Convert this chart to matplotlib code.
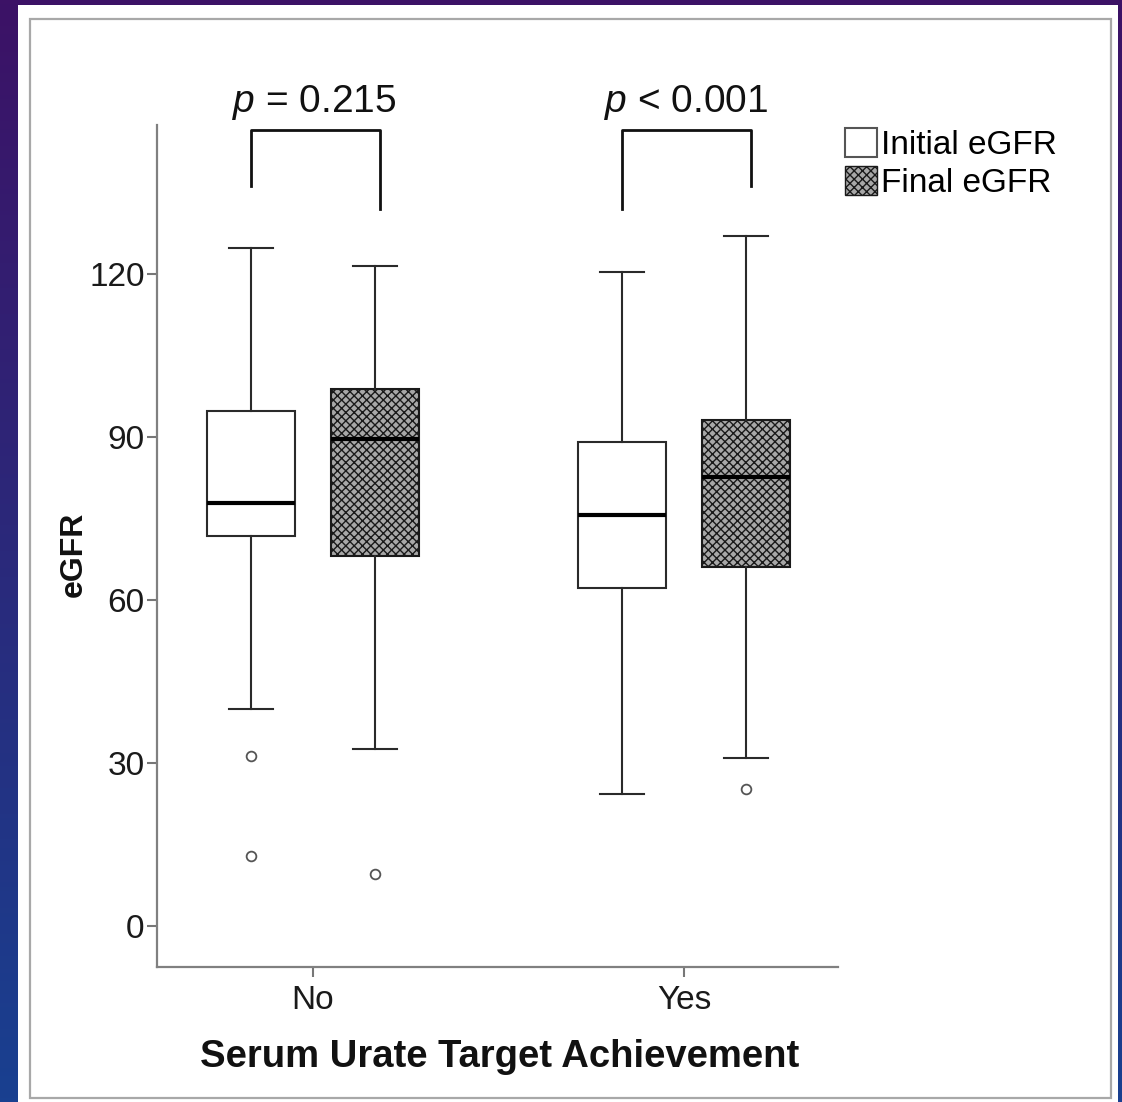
import numpy as np
import matplotlib
matplotlib.use("Agg")
import matplotlib.pyplot as plt
from matplotlib.patches import Patch, Rectangle

plt.rcParams['font.family'] = ['Liberation Sans', 'DejaVu Sans']
plt.rcParams['mathtext.fontset'] = 'custom'
plt.rcParams['mathtext.rm'] = 'Liberation Sans'
plt.rcParams['mathtext.it'] = 'Liberation Sans:italic'
plt.rcParams['hatch.linewidth'] = 1.0

# data
groups = ['No', 'Yes']
series = ['Initial eGFR', 'Final eGFR']

initial_whishi = [124.8, 120.4]
initial_q3 = [94.8, 89.1]
initial_med = [77.9, 75.6]
initial_q1 = [71.8, 62.2]
initial_whislo = [39.9, 24.3]
initial_fliers = [[31.3, 12.9], []]

final_whishi = [121.5, 127.0]
final_q3 = [98.8, 93.1]
final_med = [89.6, 82.6]
final_q1 = [68.1, 66.1]
final_whislo = [32.6, 30.9]
final_fliers = [[9.6], [25.2]]

p_labels = [r'$p$ = 0.215', r'$p$ < 0.001']
bracket_top = 146.5
bracket_legs = [[136.2, 132.0], [132.0, 136.2]]

yticks = [0, 30, 60, 90, 120]

W, H = 1122, 1102
fig = plt.figure(figsize=(W / 100, H / 100), dpi=100)

# slide background gradient
bg = fig.add_axes([0, 0, 1, 1], zorder=-10)
top_c = np.array([0x3c, 0x12, 0x66]) / 255
bot_c = np.array([0x19, 0x40, 0x90]) / 255
t = np.linspace(0, 1, 256)[:, None, None]
grad = top_c * (1 - t) + bot_c * t
bg.imshow(np.repeat(grad, 2, axis=1), aspect='auto', extent=[0, 1, 0, 1])
bg.axis('off')

# white panel with grey frame
fig.add_artist(Rectangle((18 / W, 0), (1118 - 18) / W, 1 - 5 / H,
                         transform=fig.transFigure, facecolor='white',
                         edgecolor='none', zorder=-5))
fig.add_artist(Rectangle((30 / W, 1 - 1098 / H), (1111 - 30) / W, (1098 - 19) / H,
                         transform=fig.transFigure, facecolor='none',
                         edgecolor='#a8a8a8', lw=1.6, zorder=-4))

ax = fig.add_axes([157 / W, 1 - 967 / H, (838 - 157) / W, (967 - 125) / H])
ax.set_facecolor('none')

offset = 0.167
width = 0.237
hatch = 'xxxx'
hatch_face = '#a8a8a8'

def make_stats(q1, med, q3, lo, hi, fl):
    return [dict(q1=a, med=b, q3=c, whislo=d, whishi=e, fliers=f)
            for a, b, c, d, e, f in zip(q1, med, q3, lo, hi, fl)]

pos = np.arange(len(groups))
common = dict(widths=width, patch_artist=True, showfliers=True,
              whiskerprops=dict(color='#2a2a2a', lw=1.5),
              capprops=dict(color='#2a2a2a', lw=1.5),
              medianprops=dict(color='black', lw=3),
              flierprops=dict(marker='o', markersize=7, markerfacecolor='none',
                              markeredgecolor='#555555', markeredgewidth=1.3))

b1 = ax.bxp(make_stats(initial_q1, initial_med, initial_q3, initial_whislo,
                       initial_whishi, initial_fliers),
            positions=pos - offset,
            boxprops=dict(facecolor='white', edgecolor='#2a2a2a', lw=1.5), **common)
b2 = ax.bxp(make_stats(final_q1, final_med, final_q3, final_whislo,
                       final_whishi, final_fliers),
            positions=pos + offset,
            boxprops=dict(facecolor=hatch_face, edgecolor='#1a1a1a', lw=1.5, hatch=hatch),
            **common)

# significance brackets
for i, lab in enumerate(p_labels):
    xl, xr = pos[i] - offset, pos[i] + 0.18
    ax.plot([xl, xl, xr, xr], [bracket_legs[i][0], bracket_top, bracket_top, bracket_legs[i][1]],
            color='#111111', lw=2, clip_on=False)
    ax.text(pos[i] + 0.005, 149.8, lab, ha='center', va='baseline',
            fontsize=28, color='#111111', clip_on=False)

ax.set_xlim(-0.42, 1.415)
ax.set_ylim(-7.55, 147.4)
ax.set_xticks(pos)
ax.set_xticklabels(groups)
ax.set_yticks(yticks)
ax.tick_params(axis='both', labelsize=24, colors='#1a1a1a', length=7, width=1.5,
               color='#777777')
ax.tick_params(axis='x', pad=6)
ax.tick_params(axis='y', pad=2)
for s in ['top', 'right']:
    ax.spines[s].set_visible(False)
for s in ['left', 'bottom']:
    ax.spines[s].set_color('#808080')
    ax.spines[s].set_linewidth(1.6)

ax.set_ylabel('eGFR', fontsize=23, fontweight='bold', color='#111111')
ax.yaxis.set_label_coords(-0.10, 0.49)
ax.set_xlabel('Serum Urate Target Achievement', fontsize=27.5,
              fontweight='bold', color='#111111')
ax.xaxis.set_label_coords(0.5037, -0.086)

handles = [Patch(facecolor='white', edgecolor='#555555', lw=1.5),
           Patch(facecolor=hatch_face, edgecolor='#1a1a1a', lw=1.0, hatch=hatch)]
fig.legend(handles, series, loc='upper left', bbox_to_anchor=(845 / W, 1 - 128 / H),
           frameon=False, fontsize=24, handlelength=0.95, handleheight=0.95,
           handletextpad=0.12, labelspacing=0.15, borderpad=0, borderaxespad=0)

fig.savefig('out.png', dpi=100)
